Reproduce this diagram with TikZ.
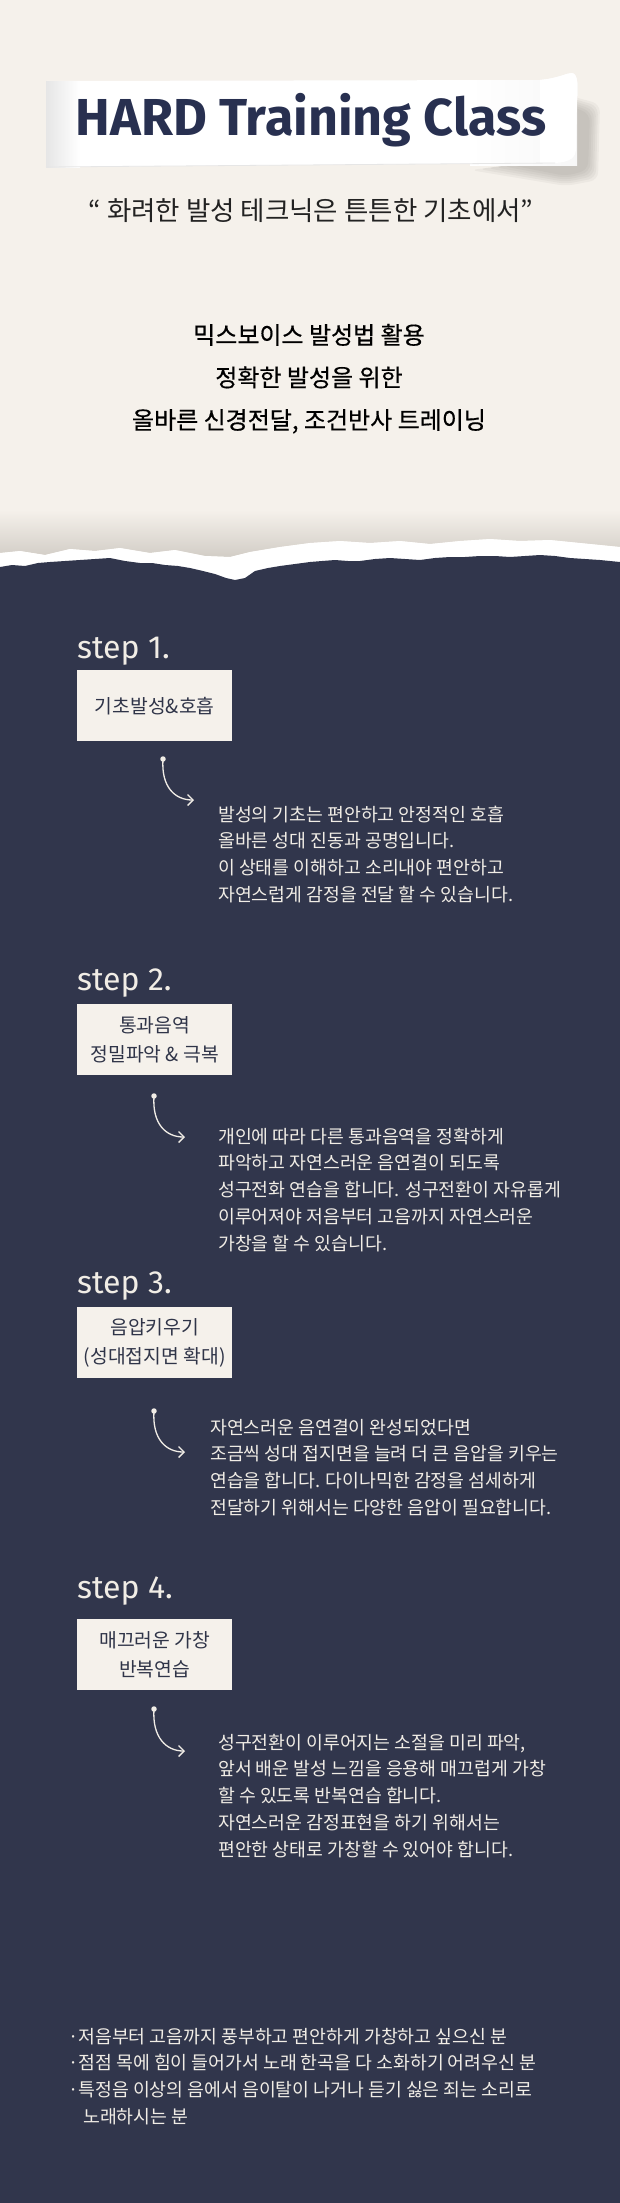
\documentclass[tikz,border=0pt]{standalone}
\usepackage{graphicx}
\usepackage{fontspec}
\setmainfont{Fira Sans}
\newfontfamily\kr{Noto Sans CJK KR}
\newfontfamily\krm{Noto Sans CJK KR}[FakeBold=0.5]
\usetikzlibrary{arrows.meta}
\definecolor{beige}{HTML}{F5F1EB}
\definecolor{navy}{HTML}{31364C}
\definecolor{titlec}{HTML}{283050}
\definecolor{boxtxt}{HTML}{2F3448}
\definecolor{lighttxt}{HTML}{F1EDE6}
\definecolor{shadowc}{HTML}{7A7670}
\definecolor{tornshade}{HTML}{D2CDC6}
\definecolor{ribL}{HTML}{E6E6E6}
\definecolor{quotec}{HTML}{222222}
\tikzset{
 steplabel/.style={anchor=base west, inner sep=0pt, text=lighttxt, font=\fontsize{32}{38}\selectfont},
 stepbox/.style={anchor=north west, fill=beige, draw=none, minimum width=155pt, minimum height=71pt, inner sep=0pt, align=center, text=boxtxt, font=\kr\fontsize{19.3}{29}\selectfont},
 desc/.style={anchor=base west, inner sep=0pt, text=lighttxt, font=\kr\fontsize{18.3}{26.8}\selectfont},
 dotn/.style={circle, fill=lighttxt, minimum size=5.5pt, inner sep=0pt},
 conn/.style={draw=lighttxt, line width=1.3pt, -{Straight Barb[length=5.5pt,width=11pt]}},
}
\begin{document}
\begin{tikzpicture}[x=1pt,y=-1pt]
\useasboundingbox (0,0) rectangle (620,2203);
% top beige area
\fill[beige] (0,0) rectangle (620,600);
% shadow above torn edge
\shade[top color=beige, bottom color=tornshade] (0,510) -- (620,510) -- (620,547) -- (600,545) -- (580,543) -- (550,540) -- (520,541) -- (490,539) -- (460,541) -- (430,544) -- (400,541) -- (370,543) -- (340,541) -- (310,543) -- (280,547) -- (250,552) -- (230,557) -- (205,556) -- (175,550) -- (150,553) -- (120,548) -- (95,551) -- (70,549) -- (45,555) -- (20,551) -- (0,553) -- cycle;
% white torn paper strip
\fill[white] (0,553) -- (20,551) -- (45,555) -- (70,549) -- (95,551) -- (120,548) -- (150,553) -- (175,550) -- (205,556) -- (230,557) -- (250,552) -- (280,547) -- (310,543) -- (340,541) -- (370,543) -- (400,541) -- (430,544) -- (460,541) -- (490,539) -- (520,541) -- (550,540) -- (580,543) -- (600,545) -- (620,547) -- (620,600) -- (0,600) -- cycle;
% dark region
\fill[navy] (0,567) -- (12,565) -- (25,566) -- (38,563) -- (50,562) -- (65,561) -- (80,560) -- (95,559) -- (110,558) -- (125,561) -- (140,563) -- (152,563) -- (165,565) -- (178,566) -- (190,568) -- (203,571) -- (215,574) -- (226,578) -- (235,580) -- (245,578) -- (255,571) -- (268,568) -- (280,566) -- (295,564) -- (310,562) -- (322,561) -- (335,560) -- (348,561) -- (360,561) -- (375,559) -- (390,558) -- (405,559) -- (420,560) -- (435,558) -- (450,557) -- (465,557) -- (480,556) -- (495,556) -- (510,557) -- (525,556) -- (540,555) -- (555,556) -- (570,558) -- (585,559) -- (600,560) -- (610,561) -- (620,562) -- (620,2203) -- (0,2203) -- cycle;
% ribbon shadow
\foreach \k in {0,...,5}{
  \fill[shadowc, opacity=0.07, rounded corners=8pt] (556+\k,92+2*\k) -- (600-2*\k,104+2*\k) -- (598-2*\k,180-2*\k) -- (566,186-2*\k) -- (470+8*\k,170-\k) -- (552,160) -- cycle;
}
% ribbon
\fill[white] (46,81) -- (540,80) .. controls (560,78) and (566,73) .. (572,73) .. controls (578,74) and (578,85) .. (577,100) -- (576,148) .. controls (576,158) and (570,162) .. (555,163) -- (46,167) -- cycle;
\shade[left color=ribL, right color=white] (46,81) rectangle (80,167);
\shade[left color=white, right color=white!94!gray] (470,80) rectangle (577,165);
\fill[white] (540,80) .. controls (560,78) and (566,73) .. (572,73) .. controls (578,74) and (578,85) .. (577,100) -- (576,148) .. controls (576,158) and (570,162) .. (555,163) -- (540,163) -- cycle;
\draw[ribL, line width=0.8pt] (46,167) -- (555,163);
\node[anchor=base, inner sep=0pt, text=titlec, font=\bfseries\fontsize{52}{60}\selectfont] (title) at (311,135) {HARD Training Class};
% quote
\node[anchor=base, inner sep=0pt, text=quotec, font=\kr\fontsize{26.5}{30}\selectfont] (quote) at (311,220) {“ 화려한 발성 테크닉은 튼튼한 기초에서”};
% headline
\node[anchor=base, inner sep=0pt, text=black, font=\krm\fontsize{24}{42.5}\selectfont] (head) at (309,344) {\parbox[t]{540pt}{\centering 믹스보이스 발성법 활용\\정확한 발성을 위한\\올바른 신경전달, 조건반사 트레이닝}};
% step 1
\node[steplabel] (s1) at (77,658) {step 1.};
\node[stepbox] (b1) at (77,670) {기초발성\&호흡};
\node[dotn] (d1) at (163,759) {};
\coordinate (t1) at (194,800);
\draw[conn] (d1.center) .. controls +(-2,28) and +(-19,0) .. (t1);
\node[desc] (p1) at (218,821) {\parbox[t]{400pt}{\raggedright 발성의 기초는 편안하고 안정적인 호흡\\올바른 성대 진동과 공명입니다.\\이 상태를 이해하고 소리내야 편안하고\\자연스럽게 감정을 전달 할 수 있습니다.}};
% step 2
\node[steplabel] (s2) at (77,990) {step 2.};
\node[stepbox] (b2) at (77,1004) {통과음역\\정밀파악 \& 극복};
\node[dotn] (d2) at (154,1096) {};
\coordinate (t2) at (185,1137);
\draw[conn] (d2.center) .. controls +(-2,28) and +(-19,0) .. (t2);
\node[desc] (p2) at (218,1143) {\parbox[t]{400pt}{\raggedright 개인에 따라 다른 통과음역을 정확하게\\파악하고 자연스러운 음연결이 되도록\\성구전화 연습을 합니다. 성구전환이 자유롭게\\이루어져야 저음부터 고음까지 자연스러운\\가창을 할 수 있습니다.}};
% step 3
\node[steplabel] (s3) at (77,1293) {step 3.};
\node[stepbox] (b3) at (77,1307) {음압키우기\\(성대접지면 확대)};
\node[dotn] (d3) at (154,1411) {};
\coordinate (t3) at (185,1452);
\draw[conn] (d3.center) .. controls +(-2,28) and +(-19,0) .. (t3);
\node[desc] (p3) at (210,1434) {\parbox[t]{410pt}{\raggedright 자연스러운 음연결이 완성되었다면\\조금씩 성대 접지면을 늘려 더 큰 음압을 키우는\\연습을 합니다. 다이나믹한 감정을 섬세하게\\전달하기 위해서는 다양한 음압이 필요합니다.}};
% step 4
\node[steplabel] (s4) at (77,1598) {step 4.};
\node[stepbox] (b4) at (77,1619) {매끄러운 가창\\반복연습};
\node[dotn] (d4) at (154,1709) {};
\coordinate (t4) at (185,1751);
\draw[conn] (d4.center) .. controls +(-2,28) and +(-19,0) .. (t4);
\node[desc] (p4) at (218,1749) {\parbox[t]{400pt}{\raggedright 성구전환이 이루어지는 소절을 미리 파악,\\앞서 배운 발성 느낌을 응용해 매끄럽게 가창\\할 수 있도록 반복연습 합니다.\\자연스러운 감정표현을 하기 위해서는\\편안한 상태로 가창할 수 있어야 합니다.}};
% bullets
\node[desc] (bl) at (68,2043) {\parbox[t]{550pt}{\raggedright ·저음부터 고음까지 풍부하고 편안하게 가창하고 싶으신 분\\·점점 목에 힘이 들어가서 노래 한곡을 다 소화하기 어려우신 분\\·특정음 이상의 음에서 음이탈이 나거나 듣기 싫은 죄는 소리로\\\hspace*{15pt}노래하시는 분}};
\end{tikzpicture}
\end{document}
